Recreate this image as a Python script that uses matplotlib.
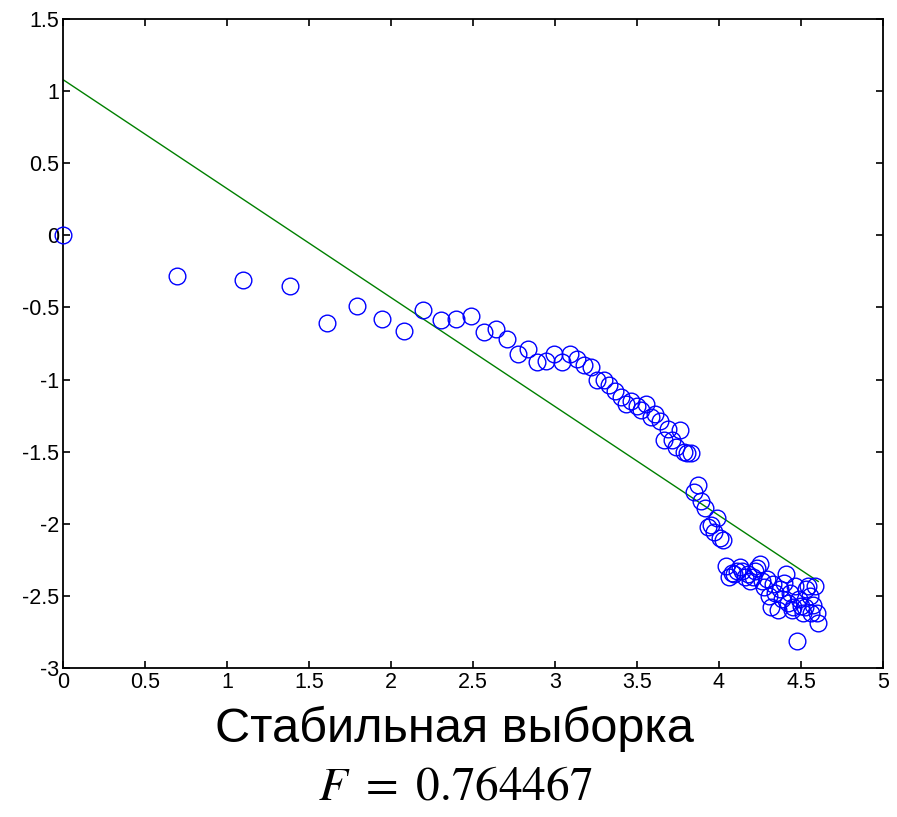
import numpy as np
import matplotlib
matplotlib.use("Agg")
import matplotlib.pyplot as plt

plt.rcParams["font.family"] = ["Liberation Sans", "DejaVu Sans"]
plt.rcParams["axes.unicode_minus"] = False
plt.rcParams["mathtext.fontset"] = "stix"

# --------------------------------------------------
# data
# --------------------------------------------------

x_vals = [0.000, 0.693, 1.099, 1.386, 1.609, 1.792, 1.946, 2.079, 2.197, 2.303,
          2.398, 2.485, 2.565, 2.639, 2.708, 2.773, 2.833, 2.890, 2.944, 2.996,
          3.045, 3.091, 3.135, 3.178, 3.219, 3.258, 3.296, 3.332, 3.367, 3.401,
          3.434, 3.466, 3.497, 3.526, 3.555, 3.584, 3.611, 3.638, 3.664, 3.689,
          3.714, 3.738, 3.761, 3.784, 3.807, 3.829, 3.850, 3.871, 3.892, 3.912,
          3.932, 3.951, 3.970, 3.989, 4.007, 4.025, 4.043, 4.060, 4.078, 4.094,
          4.111, 4.127, 4.143, 4.159, 4.174, 4.190, 4.205, 4.220, 4.234, 4.248,
          4.263, 4.277, 4.290, 4.304, 4.317, 4.331, 4.344, 4.357, 4.369, 4.382,
          4.394, 4.407, 4.419, 4.431, 4.443, 4.454, 4.466, 4.477, 4.489, 4.500,
          4.511, 4.522, 4.533, 4.543, 4.554, 4.564, 4.575, 4.585, 4.595, 4.605]

y_vals = [0.00, -0.28, -0.31, -0.35, -0.61, -0.49, -0.58, -0.66, -0.52, -0.59,
          -0.58, -0.56, -0.67, -0.65, -0.72, -0.82, -0.79, -0.88, -0.87, -0.82,
          -0.88, -0.82, -0.86, -0.90, -0.91, -1.00, -1.00, -1.04, -1.08, -1.12,
          -1.17, -1.15, -1.18, -1.21, -1.17, -1.26, -1.24, -1.29, -1.42, -1.34,
          -1.42, -1.47, -1.35, -1.50, -1.51, -1.51, -1.78, -1.73, -1.84, -1.89,
          -2.02, -2.01, -2.06, -1.96, -2.10, -2.11, -2.29, -2.37, -2.34, -2.35,
          -2.33, -2.30, -2.33, -2.37, -2.35, -2.40, -2.37, -2.33, -2.31, -2.28,
          -2.40, -2.44, -2.38, -2.50, -2.58, -2.42, -2.48, -2.60, -2.45, -2.52,
          -2.41, -2.35, -2.55, -2.48, -2.60, -2.58, -2.43, -2.81, -2.52, -2.57,
          -2.62, -2.58, -2.45, -2.43, -2.50, -2.62, -2.56, -2.43, -2.62, -2.69]

# fitted line end points
fit_x = [0.0, 4.605]
fit_y = [1.08, -2.40]

x_ticks = [0, 0.5, 1, 1.5, 2, 2.5, 3, 3.5, 4, 4.5, 5]
x_tick_labels = ["0", "0.5", "1", "1.5", "2", "2.5", "3", "3.5", "4", "4.5", "5"]
y_ticks = [-3, -2.5, -2, -1.5, -1, -0.5, 0, 0.5, 1, 1.5]
y_tick_labels = ["-3", "-2.5", "-2", "-1.5", "-1", "-0.5", "0", "0.5", "1", "1.5"]

title_text = "Стабильная выборка"
f_text = r"$F\ =\ 0.764467$"

# --------------------------------------------------
# plot
# --------------------------------------------------

fig = plt.figure(figsize=(8.97, 8.17), dpi=100)
ax = fig.add_axes([0.0702, 0.1824, 0.9142, 0.7943])

ax.plot(x_vals, y_vals, linestyle="none", marker="o", markersize=12,
        markerfacecolor="none", markeredgecolor="#0000ff", markeredgewidth=1.0,
        clip_on=False, zorder=3)
ax.plot(fit_x, fit_y, color="#008000", linewidth=1.0, zorder=2)

ax.set_xlim(0, 5)
ax.set_ylim(-3, 1.5)
ax.set_xticks(x_ticks)
ax.set_xticklabels(x_tick_labels)
ax.set_yticks(y_ticks)
ax.set_yticklabels(y_tick_labels)
ax.tick_params(direction="in", length=5, width=1.2, labelsize=15.5,
               top=True, right=True, pad=3)
for s in ax.spines.values():
    s.set_linewidth(1.3)

fig.text(0.507, 0.108, title_text, ha="center", va="center", fontsize=35)
fig.text(0.507, 0.036, f_text, ha="center", va="center", fontsize=34)

fig.savefig("out.png", dpi=100)
